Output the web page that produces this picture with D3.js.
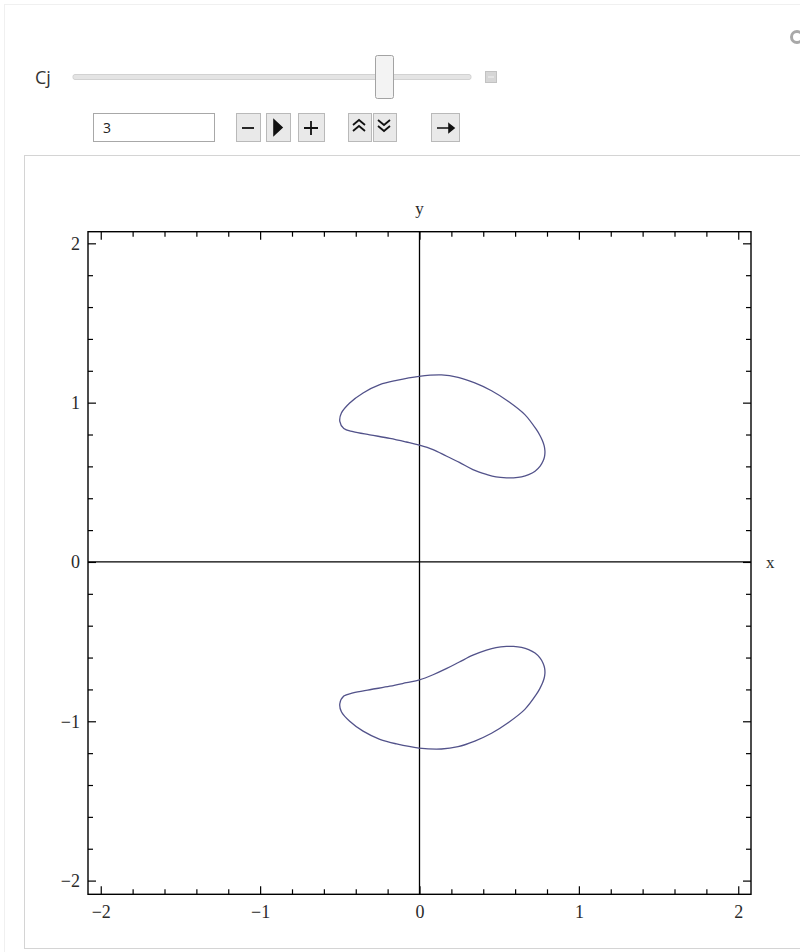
<!DOCTYPE html>
<html>
<head>
<meta charset="utf-8">
<script src="https://cdn.jsdelivr.net/npm/d3@7/dist/d3.min.js"></script>
<style>
  html, body { margin: 0; padding: 0; background: #ffffff; }
  svg { display: block; }
</style>
</head>
<body>
<script>
// Parameter shown in the control panel
const paramName = "Cj";
const paramValue = "3";

// Axis ticks
const majorTicks = [-2, -1, 0, 1, 2];
const minorTicks = [-1.8, -1.6, -1.4, -1.2, -0.8, -0.6, -0.4, -0.2, 0.2, 0.4, 0.6, 0.8, 1.2, 1.4, 1.6, 1.8];
const tickLabels = ["\u22122", "\u22121", "0", "1", "2"];

// Zero-velocity contour, upper lobe (x, y pairs in plot units, clockwise)
const upperX = [-0.500, -0.490, -0.438, -0.354, -0.249, -0.144, -0.003, 0.138, 0.242, 0.347,
                0.452, 0.556, 0.661, 0.734, 0.755, 0.771, 0.782, 0.787, 0.785, 0.776,
                0.757, 0.725, 0.685, 0.640, 0.590, 0.546, 0.480, 0.420, 0.335, 0.250,
                0.168, 0.085, 0.000, -0.082, -0.186, -0.312, -0.417, -0.475];
const upperY = [0.883, 0.935, 0.998, 1.061, 1.113, 1.140, 1.165, 1.174, 1.159, 1.124,
                1.075, 1.009, 0.925, 0.830, 0.795, 0.762, 0.730, 0.697, 0.665, 0.635,
                0.602, 0.570, 0.548, 0.534, 0.528, 0.528, 0.534, 0.550, 0.580, 0.625,
                0.665, 0.705, 0.733, 0.753, 0.776, 0.798, 0.818, 0.838];

// Zero-velocity contour, lower lobe
const lowerX = [-0.500, -0.490, -0.438, -0.354, -0.249, -0.144, -0.003, 0.138, 0.242, 0.347,
                0.452, 0.556, 0.661, 0.734, 0.755, 0.771, 0.782, 0.787, 0.785, 0.776,
                0.757, 0.725, 0.685, 0.640, 0.590, 0.546, 0.480, 0.420, 0.335, 0.250,
                0.168, 0.085, 0.000, -0.082, -0.186, -0.312, -0.417, -0.475];
const lowerY = [-0.890, -0.940, -1.000, -1.062, -1.113, -1.142, -1.168, -1.174, -1.159, -1.124,
                -1.075, -1.009, -0.925, -0.830, -0.795, -0.762, -0.730, -0.699, -0.667, -0.637,
                -0.604, -0.572, -0.550, -0.536, -0.530, -0.530, -0.537, -0.553, -0.585, -0.628,
                -0.670, -0.708, -0.740, -0.758, -0.780, -0.802, -0.822, -0.842];

const W = 800, H = 952;
const svg = d3.select("body").append("svg").attr("width", W).attr("height", H);

// ---------- outer panel ----------
svg.append("rect").attr("x", 4.5).attr("y", 4.5).attr("width", W + 10).attr("height", H)
  .attr("fill", "#ffffff").attr("stroke", "#f0f0f0");
svg.append("rect").attr("x", 24.5).attr("y", 155.5).attr("width", W + 10).attr("height", 793)
  .attr("fill", "#ffffff").attr("stroke", "#d4d4d4");

// settings icon at the top-right corner
svg.append("circle").attr("cx", 797).attr("cy", 37).attr("r", 5.5)
  .attr("fill", "none").attr("stroke", "#a8a8a8").attr("stroke-width", 3);

// ---------- controls ----------
const ctl = svg.append("g").attr("font-family", "'Open Sans', 'Noto Sans', sans-serif");
ctl.append("text").attr("x", 35).attr("y", 84).attr("font-size", 18).attr("fill", "#333")
  .text(paramName);

ctl.append("rect").attr("x", 73).attr("y", 74.5).attr("width", 398).attr("height", 5).attr("rx", 2)
  .attr("fill", "#e4e4e4").attr("stroke", "#d2d2d2");
ctl.append("rect").attr("x", 375.5).attr("y", 55.5).attr("width", 18).attr("height", 43).attr("rx", 2)
  .attr("fill", "#f3f3f3").attr("stroke", "#a3a3a3");
ctl.append("rect").attr("x", 485.5).attr("y", 71.5).attr("width", 11).attr("height", 11)
  .attr("fill", "#d6d6d6").attr("stroke", "#c2c2c2");
ctl.append("line").attr("x1", 488).attr("x2", 494).attr("y1", 77).attr("y2", 77)
  .attr("stroke", "#f2f2f2");

ctl.append("rect").attr("x", 93.5).attr("y", 113.5).attr("width", 121).attr("height", 28)
  .attr("fill", "#ffffff").attr("stroke", "#a8a8a8");
ctl.append("text").attr("x", 103).attr("y", 133).attr("font-size", 14).attr("fill", "#222")
  .text(paramValue);

const buttons = [
  {x: 236, w: 24, icon: "M242,128h12", fill: false},
  {x: 266, w: 24, icon: "M274,120l8,7.5l-8,7.5z", fill: true},
  {x: 298, w: 26, icon: "M304,128h14M311,121v14", fill: false},
  {x: 348, w: 23, icon: "M353,125l6,-5l6,5M353,131l6,-5l6,5", fill: false},
  {x: 373, w: 23, icon: "M378,120l6,5l6,-5M378,126l6,5l6,-5", fill: false},
  {x: 431, w: 28, icon: "M437,128h16M449,124l5,4l-5,4z", fill: true}
];
buttons.forEach(b => {
  ctl.append("rect").attr("x", b.x + 0.5).attr("y", 113.5).attr("width", b.w).attr("height", 28)
    .attr("fill", "#e9e9e9").attr("stroke", "#b9b9b9");
  ctl.append("path").attr("d", b.icon).attr("fill", b.fill ? "#111" : "none").attr("stroke", "#111")
    .attr("stroke-width", b.fill ? 1.6 : 1.8);
});

// ---------- plot ----------
const x = d3.scaleLinear().domain([-2.08, 2.08]).range([88, 751]);
const y = d3.scaleLinear().domain([-2.086, 2.073]).range([894.3, 231.7]);
const [x0, x1] = x.range(), [yb, yt] = y.range();
const serif = "'Liberation Serif', 'Times New Roman', serif";

const plot = svg.append("g");

// axes through the origin
plot.append("line").attr("x1", x0).attr("x2", x1).attr("y1", y(0)).attr("y2", y(0))
  .attr("stroke", "#000").attr("stroke-width", 1.3);
plot.append("line").attr("x1", x(0)).attr("x2", x(0)).attr("y1", yb).attr("y2", yt)
  .attr("stroke", "#000").attr("stroke-width", 1.3);

// contour lobes
const line = d3.line().x(d => x(d[0])).y(d => y(d[1])).curve(d3.curveCatmullRomClosed.alpha(0.5));
const lobes = [
  d3.zip(upperX, upperY),
  d3.zip(lowerX, lowerY)
];
plot.selectAll("path.lobe").data(lobes).join("path").attr("class", "lobe")
  .attr("d", line).attr("fill", "none").attr("stroke", "#52528a").attr("stroke-width", 1.3);

// frame ticks pointing inward
function frameAxis(axisFn, scale, transform, labels) {
  const gMinor = plot.append("g").attr("transform", transform)
    .call(axisFn(scale).tickValues(minorTicks).tickSize(-5).tickFormat(""));
  const gMajor = plot.append("g").attr("transform", transform)
    .call(axisFn(scale).tickValues(majorTicks).tickSize(-8)
      .tickFormat(labels ? (d, i) => tickLabels[i] : ""));
  [gMinor, gMajor].forEach(g => {
    g.select(".domain").remove();
    g.selectAll(".tick line").attr("stroke", "#000").attr("stroke-width", 1.2);
  });
  gMajor.selectAll(".tick text").attr("font-family", serif)
    .attr("font-size", 18).attr("fill", "#2a2a2a");
  return gMajor;
}
const gBottom = frameAxis(d3.axisBottom, x, `translate(0,${yb})`, true);
gBottom.selectAll(".tick text").attr("y", 23.5).attr("dy", 0);
frameAxis(d3.axisTop, x, `translate(0,${yt})`, false);
const gLeft = frameAxis(d3.axisLeft, y, `translate(${x0},0)`, true);
gLeft.selectAll(".tick text").attr("x", -8).attr("dy", "0.33em");
frameAxis(d3.axisRight, y, `translate(${x1},0)`, false);

// frame
plot.append("rect").attr("x", x0).attr("y", yt).attr("width", x1 - x0).attr("height", yb - yt)
  .attr("fill", "none").attr("stroke", "#000").attr("stroke-width", 1.4);

// axis names
plot.append("text").attr("x", x(0)).attr("y", 214).attr("text-anchor", "middle")
  .attr("font-family", serif).attr("font-size", 17).attr("fill", "#2a2a2a").text("y");
plot.append("text").attr("x", 766).attr("y", y(0) + 6).attr("text-anchor", "start")
  .attr("font-family", serif).attr("font-size", 17).attr("fill", "#2a2a2a").text("x");
</script>
</body>
</html>
